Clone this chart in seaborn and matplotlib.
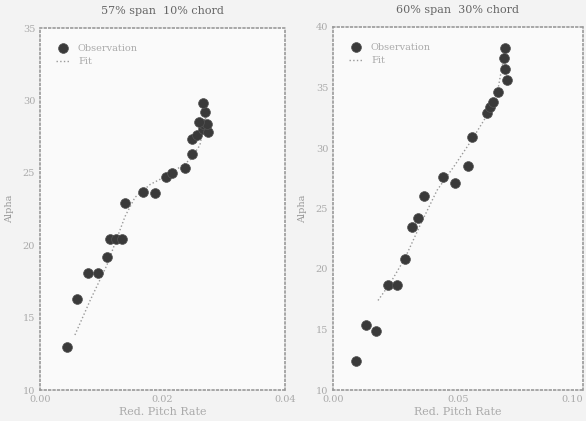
import numpy as np
import pandas as pd
import seaborn as sns
import matplotlib.pyplot as plt

# left panel: 57% span, 10% chord
left_obs_x = [0.0044, 0.0060, 0.0078, 0.0095, 0.0109, 0.0114, 0.0124, 0.0134, 0.0139,
              0.0168, 0.0188, 0.0206, 0.0216, 0.0237, 0.0248, 0.0248, 0.0256, 0.0266,
              0.0274, 0.0266, 0.0273, 0.0260, 0.0269, 0.0266]
left_obs_y = [13.0, 16.3, 18.1, 18.1, 19.2, 20.4, 20.4, 20.4, 22.9,
              23.7, 23.6, 24.7, 25.0, 25.3, 26.3, 27.3, 27.6, 28.0,
              27.8, 28.4, 28.4, 28.5, 29.2, 29.8]
left_fit_x = [0.0057, 0.0082, 0.0109, 0.0139, 0.0155, 0.0180, 0.0212, 0.0245, 0.0261, 0.0273]
left_fit_y = [13.8, 16.2, 18.6, 22.0, 23.3, 24.2, 24.9, 25.9, 26.9, 29.3]

# right panel: 60% span, 30% chord
right_obs_x = [0.0092, 0.0132, 0.0172, 0.0220, 0.0256, 0.0288, 0.0316, 0.0340, 0.0364,
               0.0440, 0.0488, 0.0540, 0.0556, 0.0616, 0.0628, 0.0640, 0.0660, 0.0696,
               0.0688, 0.0684, 0.0688]
right_obs_y = [12.4, 15.4, 14.9, 18.7, 18.7, 20.8, 23.5, 24.2, 26.0,
               27.6, 27.1, 28.5, 30.9, 32.9, 33.4, 33.8, 34.6, 35.6,
               36.5, 37.4, 38.3]
right_fit_x = [0.0180, 0.0228, 0.0288, 0.0348, 0.0416, 0.0488, 0.0556, 0.0616, 0.0656, 0.0688]
right_fit_y = [17.4, 18.8, 20.9, 23.6, 26.5, 28.6, 30.7, 32.7, 34.4, 38.1]

titles = ["57% span  10% chord", "60% span  30% chord"]

sns.set_style("white")
plt.rcParams["font.family"] = ["DejaVu Serif"]

fig = plt.figure(figsize=(5.86, 4.21), dpi=100)
fig.patch.set_facecolor("#f3f3f3")

axes = [fig.add_axes([40/586, 31/421, 245/586, 362/421]),
        fig.add_axes([333/586, 31/421, 250/586, 363/421])]

panels = [
    (left_obs_x, left_obs_y, left_fit_x, left_fit_y, (0, 0.04), [0, 0.02, 0.04], ["0.00", "0.02", "0.04"], (10, 35), np.arange(10, 36, 5)),
    (right_obs_x, right_obs_y, right_fit_x, right_fit_y, (0, 0.10), [0, 0.05, 0.10], ["0.00", "0.05", "0.10"], (10, 40), np.arange(10, 41, 5)),
]

for ax, (ox, oy, fx, fy, xl, xt, xtl, yl, yt), title in zip(axes, panels, titles):
    ax.set_facecolor("#fafafa")
    obs = pd.DataFrame({"x": ox, "y": oy})
    fit = pd.DataFrame({"x": fx, "y": fy})
    sns.scatterplot(data=obs, x="x", y="y", ax=ax, color="#3a3a3a", s=50,
                    edgecolor="#555555", linewidth=0.5, label="Observation", zorder=3)
    sns.lineplot(data=fit, x="x", y="y", ax=ax, color="#999999", linestyle=":",
                 linewidth=1.0, label="Fit", sort=False)
    ax.set_xlim(*xl)
    ax.set_ylim(*yl)
    ax.set_xticks(xt)
    ax.set_xticklabels(xtl)
    ax.set_yticks(yt)
    ax.tick_params(labelsize=7, colors="#aaaaaa", length=3, direction="in")
    for sp in ax.spines.values():
        sp.set_linestyle(":")
        sp.set_color("#999999")
        sp.set_linewidth(1.2)
    ax.set_title(title, fontsize=8, color="#666666", pad=10)
    ax.set_xlabel("Red. Pitch Rate", fontsize=8, color="#aaaaaa", labelpad=2)
    ax.set_ylabel("Alpha", fontsize=7, color="#999999", labelpad=6)
    ax.legend(loc="upper left", frameon=False, fontsize=7, labelcolor="#aaaaaa",
              handlelength=1.5, borderaxespad=1.2)

# keep the last tick label of the right panel inside the figure
axes[1].get_xticklabels()[-1].set_horizontalalignment("right")

fig.savefig("out.png", dpi=100, facecolor=fig.get_facecolor())
